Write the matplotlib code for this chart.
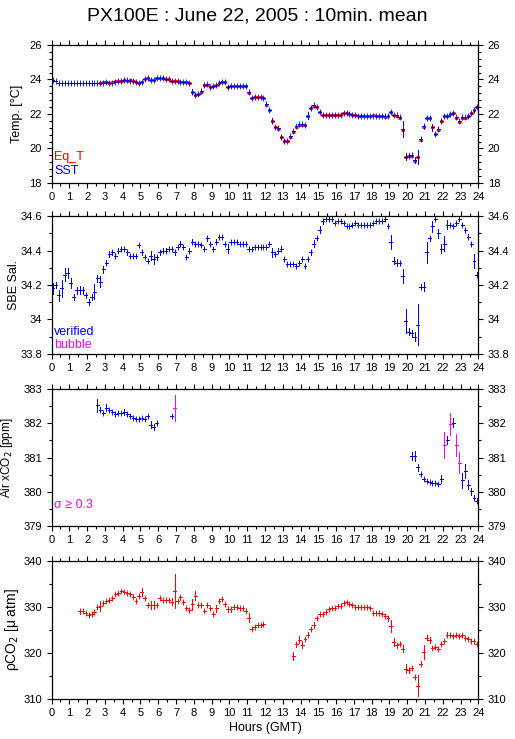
import matplotlib
matplotlib.use("Agg")
import matplotlib.pyplot as plt
from matplotlib.ticker import MultipleLocator, FormatStrFormatter
import numpy as np

nan = np.nan
plt.rcParams['font.family'] = ['Liberation Sans', 'DejaVu Sans']

# 10 minute bins, 6 per hour, rows = hours 0..23
sst = [
    23.95, 23.93, 23.78, 23.78, 23.79, 23.79,
    23.80, 23.80, 23.78, 23.80, 23.79, 23.80,
    23.80, 23.78, 23.78, 23.78, 23.80, 23.82,
    23.84, 23.80, 23.82, 23.88, 23.90, 23.93,
    23.95, 23.95, 23.93, 23.90, 23.83, 23.80,
    23.88, 24.05, 24.10, 23.98, 23.97, 24.08,
    24.08, 24.07, 24.02, 24.00, 23.92, 23.90,
    23.90, 23.88, 23.88, 23.85, 23.80, 23.30,
    23.12, 23.15, 23.32, 23.70, 23.72, 23.57,
    23.60, 23.67, 23.80, 23.86, 23.87, 23.57,
    23.63, 23.63, 23.63, 23.63, 23.63, 23.65,
    23.28, 22.95, 22.97, 22.98, 22.98, 22.95,
    22.60, 22.25, 21.62, 21.27, 21.17, 20.68,
    20.45, 20.45, 20.70, 21.00, 21.28, 21.40,
    21.41, 21.38, 21.90, 22.37, 22.50, 22.43,
    22.14, 21.97, 21.97, 21.97, 21.97, 21.97,
    21.97, 21.97, 22.05, 22.05, 22.02, 21.95,
    21.92, 21.90, 21.90, 21.90, 21.90, 21.90,
    21.90, 21.90, 21.88, 21.88, 21.87, 21.90,
    22.12, 21.93, 21.92, 21.82, 21.13, 19.52,
    19.58, 19.60, 19.32, 19.50, 20.55, 21.28,
    21.76, 21.76, 21.24, 20.84, 21.13, 21.60,
    21.90, 21.90, 22.00, 22.08, 21.80, 21.57,
    21.80, 21.80, 21.90, 22.08, 22.24, 22.43,
]
sst_err = [
    0.04, 0.04, 0.04, 0.04, 0.04, 0.04,
    0.04, 0.04, 0.04, 0.04, 0.04, 0.04,
    0.04, 0.04, 0.04, 0.04, 0.04, 0.04,
    0.04, 0.04, 0.04, 0.04, 0.04, 0.04,
    0.04, 0.04, 0.04, 0.04, 0.04, 0.04,
    0.04, 0.04, 0.04, 0.04, 0.04, 0.04,
    0.04, 0.04, 0.04, 0.04, 0.04, 0.04,
    0.04, 0.04, 0.04, 0.04, 0.04, 0.15,
    0.08, 0.04, 0.12, 0.04, 0.04, 0.04,
    0.04, 0.04, 0.04, 0.04, 0.04, 0.08,
    0.04, 0.04, 0.04, 0.04, 0.04, 0.04,
    0.12, 0.04, 0.04, 0.04, 0.04, 0.04,
    0.04, 0.04, 0.15, 0.04, 0.04, 0.12,
    0.04, 0.04, 0.04, 0.04, 0.04, 0.04,
    0.04, 0.04, 0.20, 0.12, 0.04, 0.04,
    0.04, 0.04, 0.04, 0.04, 0.04, 0.04,
    0.04, 0.04, 0.04, 0.04, 0.04, 0.04,
    0.04, 0.04, 0.04, 0.04, 0.04, 0.04,
    0.04, 0.04, 0.04, 0.04, 0.04, 0.04,
    0.04, 0.04, 0.04, 0.04, 0.45, 0.20,
    0.15, 0.04, 0.18, 0.40, 0.12, 0.15,
    0.12, 0.10, 0.20, 0.04, 0.12, 0.10,
    0.04, 0.05, 0.04, 0.04, 0.04, 0.04,
    0.04, 0.04, 0.04, 0.04, 0.04, 0.04,
]
eq_t = [
    nan, nan, nan, nan, nan, nan,
    nan, nan, nan, nan, nan, nan,
    nan, nan, nan, nan, 23.82, 23.83,
    23.86, 23.81, 23.83, 23.90, 23.90, 23.94,
    23.95, 23.94, 23.95, 23.89, 23.83, 23.80,
    23.88, 24.04, 24.09, 23.98, 23.97, 24.07,
    24.07, 24.07, 24.02, 24.00, 23.92, 23.90,
    23.90, 23.88, 23.88, 23.85, 23.80, 23.25,
    23.08, 23.15, 23.30, 23.67, 23.70, 23.57,
    23.60, 23.67, 23.80, 23.86, 23.87, 23.58,
    23.63, 23.63, 23.63, 23.63, 23.63, 23.65,
    23.24, 22.95, 22.97, 22.98, 22.98, 22.93,
    22.55, 22.22, 21.62, 21.25, 21.15, 20.65,
    20.42, 20.42, 20.68, 20.97, 21.25, 21.38,
    21.38, 21.35, 21.88, 22.35, 22.48, 22.40,
    22.12, 21.95, 21.97, 21.97, 21.97, 21.97,
    21.97, 21.97, 22.05, 22.05, 22.02, 21.95,
    21.92, 21.90, 21.90, 21.90, 21.90, 21.90,
    21.92, 21.90, 21.90, 21.88, 21.85, 21.88,
    22.10, 21.92, 21.90, 21.78, 21.10, 19.50,
    19.55, 19.58, 19.30, 19.48, 20.52, 21.26,
    21.74, 21.74, 21.22, 20.82, 21.10, 21.58,
    21.88, 21.88, 21.98, 22.06, 21.78, 21.54,
    21.78, 21.78, 21.88, 22.06, 22.22, 22.40,
]

sal = [
    34.18, 34.20, 34.14, 34.18, 34.26, 34.27,
    34.21, 34.13, 34.17, 34.17, 34.17, 34.14,
    34.10, 34.13, 34.16, 34.24, 34.22, 34.29,
    34.33, 34.38, 34.39, 34.37, 34.40, 34.41,
    34.41, 34.39, 34.37, 34.37, 34.37, 34.43,
    34.39, 34.36, 34.34, 34.37, 34.35, 34.36,
    34.39, 34.40, 34.40, 34.41, 34.41, 34.39,
    34.42, 34.44, 34.42, 34.36, 34.40, 34.45,
    34.44, 34.44, 34.43, 34.41, 34.47, 34.44,
    34.41, 34.45, 34.48, 34.48, 34.44, 34.41,
    34.45, 34.45, 34.45, 34.44, 34.44, 34.44,
    34.41, 34.41, 34.42, 34.42, 34.42, 34.42,
    34.42, 34.44, 34.39, 34.38, 34.40, 34.41,
    34.35, 34.32, 34.32, 34.32, 34.31, 34.33,
    34.35, 34.31, 34.35, 34.39, 34.44, 34.47,
    34.52, 34.57, 34.58, 34.58, 34.58, 34.56,
    34.57, 34.57, 34.56, 34.54, 34.54, 34.55,
    34.56, 34.55, 34.55, 34.55, 34.55, 34.55,
    34.56, 34.57, 34.57, 34.57, 34.58, 34.54,
    34.45, 34.34, 34.33, 34.33, 34.25, 33.99,
    33.93, 33.92, 33.90, 33.97, 34.19, 34.19,
    34.39, 34.47, 34.54, 34.58, 34.50, 34.41,
    34.44, 34.55, 34.55, 34.54, 34.56, 34.58,
    34.55, 34.52, 34.48, 34.44, 34.34, 34.26,
]
sal_err = [
    0.032, 0.020, 0.030, 0.048, 0.036, 0.030,
    0.030, 0.016, 0.020, 0.024, 0.020, 0.015,
    0.016, 0.015, 0.043, 0.020, 0.030, 0.020,
    0.015, 0.020, 0.015, 0.015, 0.015, 0.012,
    0.012, 0.015, 0.012, 0.012, 0.012, 0.010,
    0.015, 0.012, 0.012, 0.025, 0.030, 0.015,
    0.015, 0.012, 0.012, 0.012, 0.012, 0.015,
    0.012, 0.015, 0.012, 0.010, 0.012, 0.015,
    0.012, 0.012, 0.012, 0.012, 0.015, 0.012,
    0.012, 0.015, 0.012, 0.012, 0.008, 0.025,
    0.010, 0.008, 0.008, 0.008, 0.008, 0.008,
    0.008, 0.008, 0.008, 0.008, 0.008, 0.008,
    0.008, 0.008, 0.025, 0.012, 0.015, 0.015,
    0.012, 0.010, 0.008, 0.010, 0.010, 0.012,
    0.012, 0.012, 0.012, 0.015, 0.020, 0.010,
    0.020, 0.015, 0.010, 0.008, 0.008, 0.008,
    0.008, 0.008, 0.008, 0.008, 0.008, 0.008,
    0.008, 0.008, 0.008, 0.008, 0.008, 0.008,
    0.008, 0.008, 0.008, 0.008, 0.008, 0.012,
    0.040, 0.020, 0.020, 0.012, 0.040, 0.070,
    0.020, 0.020, 0.025, 0.120, 0.015, 0.025,
    0.060, 0.015, 0.030, 0.010, 0.025, 0.025,
    0.045, 0.025, 0.010, 0.010, 0.010, 0.010,
    0.010, 0.012, 0.015, 0.012, 0.040, 0.015,
]

xco2 = [
    nan, nan, nan, nan, nan, nan,
    nan, nan, nan, nan, nan, nan,
    nan, nan, nan, 382.52, 382.40, 382.31,
    382.45, 382.38, 382.33, 382.26, 382.30, 382.30,
    382.33, 382.26, 382.20, 382.16, 382.13, 382.13,
    382.16, 382.13, 382.20, 381.96, 381.89, 382.00,
    nan, nan, nan, nan, 382.20, nan,
] + [nan] * 79 + [
    381.05, 381.04, 380.71, 380.51, 380.37,
    380.32, 380.29, 380.27, 380.26, 380.22, 380.37,
    nan, 381.52, nan, 382.02, nan, nan,
    380.34, 380.60, 380.21, 380.02, 379.83, 379.74,
]
xco2_err = [
    0, 0, 0, 0, 0, 0,
    0, 0, 0, 0, 0, 0,
    0, 0, 0, 0.20, 0.08, 0.04,
    0.10, 0.05, 0.04, 0.04, 0.03, 0.03,
    0.10, 0.04, 0.03, 0.03, 0.03, 0.03,
    0.03, 0.03, 0.05, 0.10, 0.08, 0.05,
    0, 0, 0, 0, 0.05, 0,
] + [0] * 79 + [
    0.12, 0.15, 0.10, 0.04, 0.03,
    0.03, 0.03, 0.03, 0.03, 0.04, 0.12,
    0, 0.12, 0, 0.12, 0, 0,
    0.22, 0.20, 0.13, 0.10, 0.08, 0.08,
]
# sigma >= 0.3 (bubble flagged)
xco2_hi = [nan] * 41 + [382.45] + [nan] * 90 + [
    381.36, nan, 381.99, nan, 381.36, 380.85,
    nan, nan, nan, nan, nan, nan,
]
xco2_hi_err = [0] * 41 + [0.38] + [0] * 90 + [
    0.38, 0, 0.32, 0, 0.32, 0.30,
    0, 0, 0, 0, 0, 0,
]

pco2 = [
    nan, nan, nan, nan, nan, nan,
    nan, nan, nan, 328.93, 329.00, 328.50,
    328.13, 328.35, 328.86, 329.80, 330.10, 330.80,
    331.20, 331.40, 331.80, 332.70, 332.86, 333.37,
    333.15, 332.86, 332.64, 332.13, 331.26, 332.35,
    333.15, 331.77, 330.30, 330.30, 330.30, 330.30,
    331.77, 331.33, 331.33, 331.33, 331.04, 333.37,
    331.19, 332.00, 331.04, 329.60, 329.20, 330.50,
    332.35, 330.30, 330.30, 329.07, 330.30, 329.60,
    328.35, 329.60, 331.19, 331.60, 330.50, 329.40,
    329.40, 329.80, 329.80, 329.60, 329.60, 329.07,
    327.60, 325.20, 325.60, 325.95, 325.95, 326.10,
    nan, nan, nan, nan, nan, nan,
    nan, nan, nan, 319.24, 321.80, 322.80,
    321.70, 323.00, 323.90, 325.07, 325.95, 327.40,
    328.27, 328.27, 328.86, 329.37, 329.60, 329.73,
    330.17, 330.17, 330.68, 330.90, 330.46, 330.30,
    329.80, 329.80, 329.80, 329.80, 329.80, 329.60,
    328.50, 328.50, 328.70, 328.27, 327.98, 327.40,
    325.80, 322.30, 321.57, 321.94, 320.85, 316.50,
    316.10, 316.60, 314.65, 312.80, 317.57, 320.10,
    323.25, 322.67, 321.06, 321.20, 320.85, 321.94,
    322.50, 323.90, 323.76, 323.54, 323.90, 323.54,
    323.76, 323.25, 323.00, 322.45, 322.45, 321.80,
]
pco2_err = [
    0, 0, 0, 0, 0, 0,
    0, 0, 0, 0.5, 0.4, 0.3,
    0.4, 0.4, 0.4, 0.4, 1.0, 0.3,
    0.3, 0.4, 0.3, 0.3, 0.3, 0.3,
    0.3, 0.3, 0.3, 0.3, 0.3, 0.3,
    0.8, 0.3, 0.4, 0.8, 0.8, 0.4,
    0.3, 0.3, 0.3, 0.3, 0.8, 3.6,
    0.4, 0.5, 0.4, 0.4, 0.3, 1.2,
    1.0, 0.3, 0.3, 0.3, 0.4, 0.4,
    0.3, 0.8, 0.4, 0.4, 0.3, 0.6,
    0.5, 0.3, 0.3, 0.3, 0.3, 0.3,
    0.9, 0.4, 0.3, 0.3, 0.3, 0.3,
    0, 0, 0, 0, 0, 0,
    0, 0, 0, 0.8, 0.5, 0.7,
    0.8, 0.4, 0.6, 0.4, 0.6, 0.4,
    0.4, 0.3, 0.4, 0.3, 0.3, 0.3,
    0.3, 0.3, 0.3, 0.3, 0.3, 0.3,
    0.3, 0.3, 0.3, 0.3, 0.3, 0.3,
    0.3, 0.3, 0.3, 0.3, 0.3, 0.5,
    1.3, 0.8, 0.5, 0.4, 0.7, 0.9,
    0.5, 0.4, 0.5, 2.3, 0.6, 1.5,
    0.5, 0.6, 0.3, 0.3, 0.3, 0.3,
    0.3, 0.5, 0.3, 0.3, 0.3, 0.3,
    0.3, 0.3, 0.3, 0.3, 0.3, 0.3,
]

hours = np.arange(144) / 6 + 1 / 12
half_bin = 1 / 12

BLUE = '#0000ff'
RED = '#ff0000'
MAG = '#ff00ff'


def draw(ax, y, yerr, color, lw=0.6, ms=4, aa=False):
    y = np.array(y, dtype=float)
    ok = ~np.isnan(y)
    ebar = ax.errorbar(hours[ok], y[ok], xerr=half_bin, yerr=np.array(yerr, dtype=float)[ok],
                       fmt='none', ecolor=color, elinewidth=lw, capsize=0)
    for c in ebar.lines[2]:
        c.set_antialiased(aa)
    ax.plot(hours[ok], y[ok], linestyle='none', marker='|', ms=ms, mew=lw,
            color=color, antialiased=aa)


def style(ax, ylo, yhi, major, minor, fmt):
    ax.set_xlim(0, 24)
    ax.set_ylim(ylo, yhi)
    ax.xaxis.set_major_locator(MultipleLocator(1))
    ax.xaxis.set_minor_locator(MultipleLocator(0.5))
    ax.yaxis.set_major_locator(MultipleLocator(major))
    ax.yaxis.set_minor_locator(MultipleLocator(minor))
    ax.yaxis.set_major_formatter(FormatStrFormatter(fmt))
    ax.tick_params(which='both', direction='out', top=True, right=True,
                   labelright=True, labelsize=8, width=0.8, pad=3)
    ax.tick_params(which='major', length=3.8)
    ax.tick_params(which='minor', length=2.2)
    for s in ax.spines.values():
        s.set_linewidth(0.9)


fig = plt.figure(figsize=(5.15, 7.39), dpi=100)
L, W, H = 0.1, 0.829, 0.1867
ax1 = fig.add_axes([L, 0.7524, W, H])
ax2 = fig.add_axes([L, 0.521, W, H])
ax3 = fig.add_axes([L, 0.2882, W, 0.1854])
ax4 = fig.add_axes([L, 0.0548, W, H])

# temperature
draw(ax1, eq_t, [0.03] * 144, RED, lw=2.0, ms=2, aa=True)
draw(ax1, sst, sst_err, BLUE)
style(ax1, 18, 26, 2, 0.4, '%g')
ax1.set_ylabel('Temp. [°C]', fontsize=9)
ax1.yaxis.set_label_coords(-0.067, 0.5)
ax1.text(0.006, 0.19, 'Eq_T', color=RED, transform=ax1.transAxes, fontsize=9, va='center')
ax1.text(0.006, 0.087, 'SST', color=BLUE, transform=ax1.transAxes, fontsize=9, va='center')

# salinity
draw(ax2, sal, sal_err, BLUE)
style(ax2, 33.8, 34.6, 0.2, 0.1, '%g')
ax2.set_ylabel('SBE Sal.', fontsize=9)
ax2.yaxis.set_label_coords(-0.074, 0.5)
ax2.text(0.006, 0.16, 'verified', color=BLUE, transform=ax2.transAxes, fontsize=9, va='center')
ax2.text(0.006, 0.065, 'bubble', color=MAG, transform=ax2.transAxes, fontsize=9, va='center')

# air xCO2
draw(ax3, xco2, xco2_err, BLUE)
draw(ax3, xco2_hi, xco2_hi_err, MAG)
style(ax3, 379, 383, 1, 0.5, '%g')
ax3.set_ylabel('Air xCO$_2$ [ppm]', fontsize=8.5)
ax3.yaxis.set_label_coords(-0.085, 0.5)
ax3.text(0.006, 0.153, 'σ ≥ 0.3', color=MAG, transform=ax3.transAxes, fontsize=9, va='center')

# pCO2
draw(ax4, pco2, pco2_err, RED)
style(ax4, 310, 340, 10, 5, '%g')
ax4.set_ylabel('ρCO$_2$ [μ atm]', fontsize=10)
ax4.yaxis.set_label_coords(-0.072, 0.5)
ax4.set_xlabel('Hours (GMT)', fontsize=9, labelpad=3)

fig.suptitle('PX100E : June 22, 2005 : 10min. mean', fontsize=14, y=0.99)

fig.savefig('out.png', dpi=100)
